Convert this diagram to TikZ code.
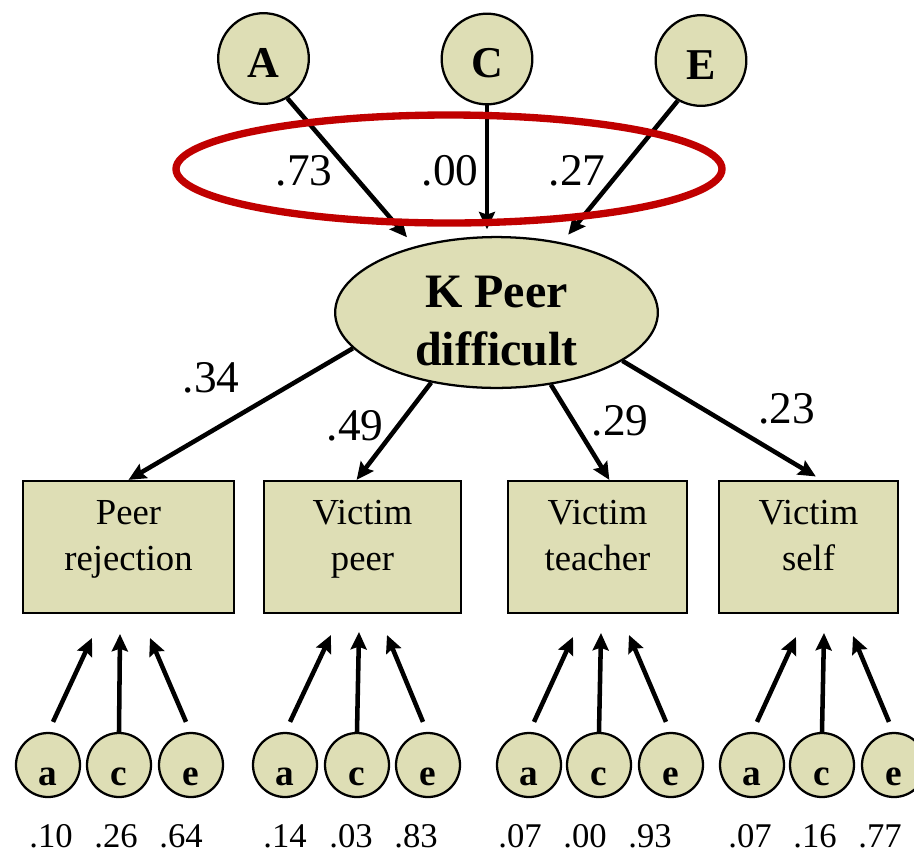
\documentclass[tikz,border=0pt]{standalone}
\usepackage{fontspec}
\setmainfont{Liberation Serif}
\usetikzlibrary{arrows.meta,shapes.geometric}
\definecolor{oliv}{RGB}{222,222,181}
\definecolor{dunkelrot}{RGB}{192,0,0}

\begin{document}
\begin{tikzpicture}[x=0.75pt, y=-0.75pt,
        pfeil/.style={-{Stealth[length=13pt, width=12pt, inset=2pt]}, line width=3.4pt},
        gross/.style={circle, draw, line width=1.7pt, fill=oliv, inner sep=0pt, minimum size=68pt,
            text height=28pt, text depth=0pt, font=\bfseries\fontsize{33}{33}\selectfont},
        klein/.style={circle, draw, line width=1.7pt, fill=oliv, inner sep=0pt, minimum size=48pt,
            text height=30pt, text depth=0pt, font=\bfseries\fontsize{28}{28}\selectfont},
        faktor/.style={ellipse, draw, line width=1.7pt, fill=oliv, inner sep=0pt,
            minimum width=242pt, minimum height=111pt, align=center,
            text height=80pt, text depth=-9.25pt, font=\bfseries\fontsize{36}{43.5}\selectfont},
        mass/.style={rectangle, draw, line width=1.7pt, fill=oliv, inner sep=0pt,
            minimum height=99pt, align=center, text height=55pt, text depth=20.5pt,
            font=\fontsize{27.5}{34}\selectfont},
        gewicht/.style={inner sep=0pt, font=\fontsize{34}{34}\selectfont},
        anteil/.style={inner sep=0pt, font=\fontsize{26}{26}\selectfont}]
        \useasboundingbox (0,0) rectangle (914,854);

        % A, C, E des latenten Faktors
        \node[gross] (A) at (263.5,58.5) {A};
        \node[gross] (C) at (487,59) {C};
        \node[gross] (E) at (701,60.5) {E};

        \node[faktor] (K) at (496.5,312.5) {K Peer\\difficult};

        \draw[pfeil, shorten >=9pt] (A.-59) -- (K.141);
        \draw[pfeil, shorten >=5pt] (C.south) -- (C.south |- K.north);
        \draw[pfeil, shorten >=7.5pt] (E.240) -- (K.47);

        \node[gewicht] (gA) at (304,171) {.73};
        \node[gewicht] (gC) at (450,171) {.00};
        \node[gewicht] (gE) at (577,171) {.27};

        % Markierung (rot)
        \draw[dunkelrot, line width=5.5pt] (449,169) ellipse [x radius=273, y radius=54];

        % Indikatoren
        \node[mass, minimum width=158pt] (rej) at (128.5,547) {Peer\\rejection};
        \node[mass, minimum width=148pt] (vpeer) at (362.5,547) {Victim\\peer};
        \node[mass, minimum width=134pt] (vteach) at (597.5,547) {Victim\\teacher};
        \node[mass, minimum width=134pt] (vself) at (808.5,547) {Victim\\self};

        % Ladungen
        \draw[pfeil] (K.194) -- (rej.north);
        \draw[pfeil] (K.227) -- (vpeer.95);
        \draw[pfeil] (K.307) -- (vteach.80);
        \draw[pfeil, shorten >=5pt] (K.339) -- (vself.79);

        \node[gewicht] (g1) at (211,378) {.34};
        \node[gewicht] (g2) at (355,426) {.49};
        \node[gewicht] (g3) at (620,421) {.29};
        \node[gewicht] (g4) at (786.5,409) {.23};

        % a, c, e der Indikatoren
        \node[klein] (a1) at (48,765) {a};
        \node[klein] (c1) at (119,765) {c};
        \node[klein] (e1) at (191,765) {e};
        \node[klein] (a2) at (285,765) {a};
        \node[klein] (c2) at (357,765) {c};
        \node[klein] (e2) at (428,765) {e};
        \node[klein] (a3) at (529,765) {a};
        \node[klein] (c3) at (599,765) {c};
        \node[klein] (e3) at (671,765) {e};
        \node[klein] (a4) at (752,765) {a};
        \node[klein] (c4) at (822,765) {c};
        \node[klein] (e4) at (894,765) {e};

        % Pfeilspitzen unter den Kaesten
        \coordinate (ta1) at (92,638);
        \coordinate (tc1) at (120,634);
        \coordinate (te1) at (150,638);
        \coordinate (ta2) at (331,635);
        \coordinate (tc2) at (359,632);
        \coordinate (te2) at (387,635);
        \coordinate (ta3) at (573,637);
        \coordinate (tc3) at (601,633);
        \coordinate (te3) at (629,635);
        \coordinate (ta4) at (796,637);
        \coordinate (tc4) at (824,633);
        \coordinate (te4) at (853,636);

        \draw[pfeil] ([shift={(5,-10)}]a1.north) -- (ta1);
        \draw[pfeil] (c1.north) -- (tc1);
        \draw[pfeil] ([shift={(-5,-10)}]e1.north) -- (te1);
        \draw[pfeil] ([shift={(5,-10)}]a2.north) -- (ta2);
        \draw[pfeil] (c2.north) -- (tc2);
        \draw[pfeil] ([shift={(-5,-10)}]e2.north) -- (te2);
        \draw[pfeil] ([shift={(5,-10)}]a3.north) -- (ta3);
        \draw[pfeil] (c3.north) -- (tc3);
        \draw[pfeil] ([shift={(-5,-10)}]e3.north) -- (te3);
        \draw[pfeil] ([shift={(5,-10)}]a4.north) -- (ta4);
        \draw[pfeil] (c4.north) -- (tc4);
        \draw[pfeil] ([shift={(-5,-10)}]e4.north) -- (te4);

        % Anteile
        \node[anteil] (pa1) at (51,836.5) {.10};
        \node[anteil] (pc1) at (116,836.5) {.26};
        \node[anteil] (pe1) at (181,836.5) {.64};
        \node[anteil] (pa2) at (285,836.5) {.14};
        \node[anteil] (pc2) at (351,836.5) {.03};
        \node[anteil] (pe2) at (416,836.5) {.83};
        \node[anteil] (pa3) at (520,836.5) {.07};
        \node[anteil] (pc3) at (585,836.5) {.00};
        \node[anteil] (pe3) at (650,836.5) {.93};
        \node[anteil] (pa4) at (750,836.5) {.07};
        \node[anteil] (pc4) at (815,836.5) {.16};
        \node[anteil] (pe4) at (880,836.5) {.77};
\end{tikzpicture}
\end{document}
